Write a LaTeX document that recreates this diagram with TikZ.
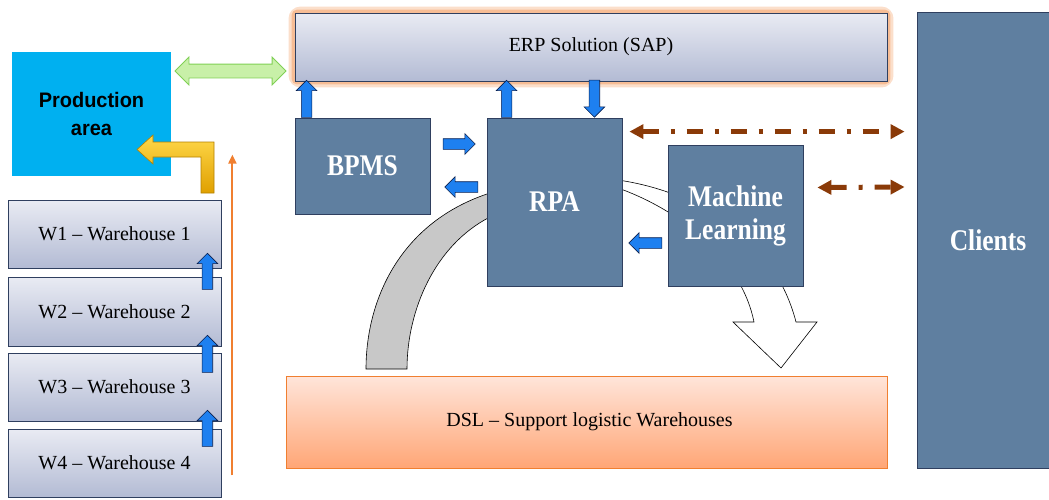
\documentclass[tikz,border=0pt]{standalone}
\usepackage{fontspec}
\setmainfont{Liberation Serif}
\newfontfamily\labelfont[FakeStretch=0.85]{Liberation Serif}
\newfontfamily\prodfont[FakeStretch=0.95]{Liberation Sans}
\usepackage{tikz}
\usetikzlibrary{arrows.meta, calc, shapes.arrows, backgrounds}
\definecolor{my_slate}{HTML}{5F7FA0}
\definecolor{my_cyan}{HTML}{00B0F0}
\definecolor{my_paletop}{HTML}{E9EBF3}
\definecolor{my_palebot}{HTML}{B3BBD4}
\definecolor{my_frame}{HTML}{2F3F5F}
\definecolor{my_blue}{HTML}{1E80F0}
\definecolor{my_navy}{HTML}{0A2050}
\definecolor{my_brown}{HTML}{8A3A08}
\definecolor{my_orange}{HTML}{F07F30}
\definecolor{my_peachtop}{HTML}{FFE5DA}
\definecolor{my_peachbot}{HTML}{FFA676}
\definecolor{my_goldtop}{HTML}{FFD84A}
\definecolor{my_goldbot}{HTML}{E0A000}
\definecolor{my_greenfill}{HTML}{C8F0A8}
\definecolor{my_greenline}{HTML}{80D055}
\definecolor{my_band}{HTML}{C8C8C8}

\begin{document}
\begin{tikzpicture}[x=1pt, y=-1pt,
    darkbox/.style={draw=my_frame, line width=0.8pt, fill=my_slate, text=white,
        font=\labelfont\bfseries\fontsize{30}{33}\selectfont, align=center, inner sep=0pt},
    palebox/.style={draw=my_frame, line width=0.8pt, top color=my_paletop,
        bottom color=my_palebot, font=\fontsize{20}{24}\selectfont, inner sep=0pt},
    bluearrow/.style={single arrow, draw=my_navy, line width=0.6pt, fill=my_blue,
        inner sep=5pt, single arrow head extend=5pt, single arrow tip angle=90},
    browndash/.style={my_brown, line width=5pt,
        dash pattern=on 16pt off 12pt on 4pt off 12pt,
        {Triangle[length=14pt,width=14pt]}-{Triangle[length=14pt,width=14pt]}}
]
\useasboundingbox (0,0) rectangle (1049,499);
\clip (0,0) rectangle (1049,499);

% -------- Main blocks ---------------------------------------
\node[fill=my_cyan, minimum width=159pt, minimum height=124pt, align=center,
      font=\prodfont\bfseries\fontsize{21}{28}\selectfont] (prod) at (91.5,114)
    {Production\\area};
\node[palebox, minimum width=592pt, minimum height=68pt] (erp) at (591,47)
    {ERP Solution (SAP)};
\node[darkbox, minimum width=135pt, minimum height=96pt] (bpms) at (362.5,166) {BPMS};
\node[darkbox, minimum width=135pt, minimum height=168pt] (rpa) at (554.5,202) {RPA};
\node[darkbox, minimum width=135pt, minimum height=141pt] (ml) at (735.5,215.5)
    {Machine\\Learning};
\node[darkbox, minimum width=142pt, minimum height=456pt] (clients) at (988,240) {Clients};
\node[draw=my_orange, line width=0.8pt, top color=my_peachtop, bottom color=my_peachbot,
      minimum width=601pt, minimum height=92pt, font=\fontsize{20}{24}\selectfont]
    (dsl) at (586.5,422) {\hspace{6pt}DSL -- Support logistic Warehouses};

% -------- Warehouses ----------------------------------------
\node[palebox, minimum width=213pt, minimum height=68pt] (w1) at (114.5,234)
    {W1 -- Warehouse 1};
\node[palebox, minimum width=213pt, minimum height=69pt] (w2) at (114.5,311.5)
    {W2 -- Warehouse 2};
\node[palebox, minimum width=213pt, minimum height=68pt] (w3) at (114.5,387)
    {W3 -- Warehouse 3};
\node[palebox, minimum width=213pt, minimum height=68pt] (w4) at (114.5,463)
    {W4 -- Warehouse 4};

% -------- Glow, curved band and white arrow (behind) --------
\begin{scope}[on background layer]
\draw[my_orange, opacity=0.25, line width=12pt, rounded corners=6pt]
    (erp.north west) rectangle (erp.south east);
\draw[my_orange, opacity=0.35, line width=6pt, rounded corners=3pt]
    (erp.north west) rectangle (erp.south east);
\draw[fill=my_band, line width=0.6pt]
    (490,193) .. controls (400,222) and (366,300) .. (366,369)
    -- (407,369) .. controls (407,310) and (435,245) .. (490,217) -- cycle;
\draw[fill=white, line width=0.6pt]
    (618,180) .. controls (700,192) and (775,240) .. (796,322)
    -- (817,322) -- (781,368) -- (733,322) -- (754,322)
    .. controls (742,262) and (685,212) .. (618,188) -- cycle;
\end{scope}

% -------- Blue block arrows ---------------------------------
\node[bluearrow, shape border rotate=90, minimum height=37pt, anchor=tail]
    at ($(bpms.north west)+(12,0)$) {};
\node[bluearrow, shape border rotate=90, minimum height=37pt, anchor=tail]
    at ($(rpa.north west)+(20,0)$) {};
\node[bluearrow, shape border rotate=270, minimum height=37pt, anchor=tip]
    at ($(rpa.north east)+(-28,0)$) {};
\node[bluearrow, minimum height=32pt, anchor=tip]
    at ($(rpa.west)+(-11,-58)$) {};
\node[bluearrow, shape border rotate=180, minimum height=33pt, anchor=tip]
    at ($(bpms.east)+(14,21)$) {};
\node[bluearrow, shape border rotate=180, minimum height=33pt, anchor=tip]
    at ($(rpa.east)+(6,41)$) {};
\node[bluearrow, shape border rotate=90, minimum height=36pt, anchor=tail]
    at ($(w2.north east)+(-14,13)$) {};
\node[bluearrow, shape border rotate=90, minimum height=37pt, anchor=tail]
    at ($(w3.north east)+(-14,20)$) {};
\node[bluearrow, shape border rotate=90, minimum height=36pt, anchor=tail]
    at ($(w4.north east)+(-14,18)$) {};

% -------- Production <-> ERP --------------------------------
\node[double arrow, draw=my_greenline, line width=0.8pt, fill=my_greenfill,
      minimum height=111pt, inner sep=6.5pt, double arrow head extend=7pt,
      double arrow tip angle=90] (prod_erp) at (230.5,71) {};

% -------- Warehouses -> production (elbow) -------------------
\draw[draw=my_goldbot!80!black, line width=0.6pt, top color=my_goldtop, bottom color=my_goldbot]
    (201,193) -- (201,157) -- (153,157) -- (153,164) -- (137,149.5) -- (153,135)
    -- (153,142) -- (214,142) -- (214,193) -- cycle;

% -------- Orange flow line ----------------------------------
\coordinate (flow_tail) at ($(w4.south east)+(11,-22)$);
\coordinate (flow_tip) at ($(w1.north east)+(11,-45)$);
\draw[my_orange, line width=2pt, -{Triangle[length=9pt,width=8pt]}] (flow_tail) -- (flow_tip);

% -------- Clients links -------------------------------------
\draw[browndash] ($(rpa.north east)+(7,14)$) -- ($(clients.north west)+(-12,120)$);
\draw[browndash] ($(ml.east)+(14,-28)$) -- ($(clients.west)+(-12,-53)$);

\end{tikzpicture}
\end{document}
